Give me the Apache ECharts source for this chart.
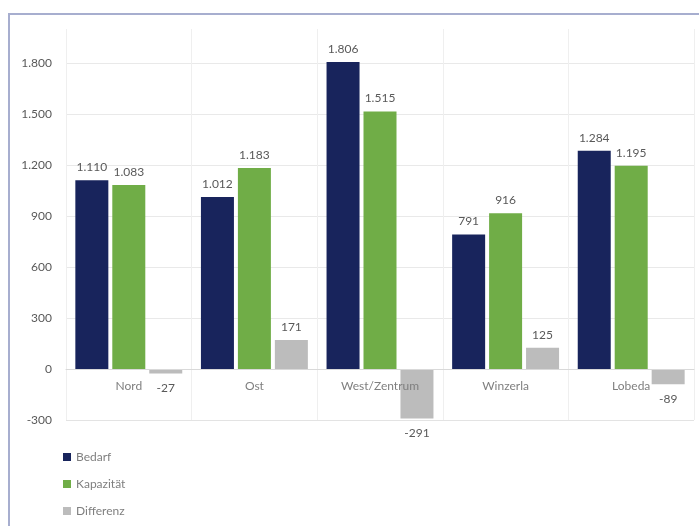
<!DOCTYPE html>
<html>
<head>
<meta charset="utf-8">
<script src="https://cdn.jsdelivr.net/npm/echarts@6/dist/echarts.min.js"></script>
<style>
  html, body { margin: 0; padding: 0; background: #fff; }
  .frame {
    position: absolute; left: 8px; top: 13px; width: 720px; height: 540px;
    border-left: 2px solid #a7aecf; border-top: 2px solid #a7aecf;
  }
  #chart { position: absolute; left: 0; top: 0; width: 699px; height: 526px; }
</style>
</head>
<body>
<div class="frame"></div>
<div id="chart"></div>
<script>
  // Daten
  const kategorien = ['Nord', 'Ost', 'West/Zentrum', 'Winzerla', 'Lobeda']
  const bedarf = [1110, 1012, 1806, 791, 1284]
  const kapazitaet = [1083, 1183, 1515, 916, 1195]
  const differenz = [-27, 171, -291, 125, -89]

  // 1.234 statt 1,234
  function fmt(v) {
    let s = String(Math.abs(v)).replace(/\B(?=(\d{3})+(?!\d))/g, '.')
    return (v < 0 ? '-' : '') + s
  }

  function items(arr) {
    return arr.map(v => ({
      value: v,
      label: v < 0 ? {position: 'bottom', distance: 9} : {position: 'top'}
    }))
  }

  let font = 'Lato'
  let chart = echarts.init(document.getElementById('chart'))

  let barLabel = {
    show: true,
    distance: 7,
    color: '#595959',
    fontFamily: font,
    fontSize: 12,
    formatter: p => fmt(p.value)
  }

  let option = {
    animation: false,
    textStyle: {fontFamily: font},
    grid: {left: 66, right: 5, top: 29, bottom: 106},
    legend: {
      orient: 'vertical',
      left: 63,
      top: 451,
      padding: 0,
      itemWidth: 8,
      itemHeight: 8,
      itemGap: 15,
      icon: 'rect',
      textStyle: {color: '#7f7f7f', fontSize: 12, fontFamily: font},
      data: ['Bedarf', 'Kapazität', 'Differenz']
    },
    xAxis: [
      {
        type: 'category',
        data: kategorien,
        position: 'bottom',
        // Achse liegt bei 0: 300er-Schritt = 51px
        offset: -51,
        axisLine: {onZero: false, lineStyle: {color: '#d9d9d9'}},
        axisTick: {show: false},
        axisLabel: {color: '#7f7f7f', fontSize: 12, margin: 11, fontFamily: font},
        splitLine: {show: false},
        z: 5
      },
      {
        // halbe Kategorien nur fuer die senkrechten Gitterlinien
        type: 'category',
        data: kategorien.flatMap(k => [k + 'a', k + 'b']),
        position: 'top',
        axisLine: {show: false, onZero: false},
        axisTick: {show: false},
        axisLabel: {show: false},
        splitLine: {show: true, lineStyle: {color: '#efefef'}}
      }
    ],
    yAxis: {
      type: 'value',
      min: -300,
      max: 2000,
      interval: 300,
      axisLine: {show: false},
      axisTick: {show: false},
      axisLabel: {
        color: '#595959',
        fontSize: 12,
        margin: 14,
        fontFamily: font,
        formatter: v => v > 1800 ? '' : fmt(v)
      },
      splitLine: {
        lineStyle: {
          color: ['#e3e3e3', '#e9e9e9', '#e9e9e9', '#e9e9e9', '#e9e9e9', '#e9e9e9', '#e9e9e9', '#e9e9e9', 'rgba(0,0,0,0)']
        }
      }
    },
    series: [
      {
        name: 'Bedarf', type: 'bar', barWidth: 33, barGap: '12%',
        itemStyle: {color: '#18245c'},
        label: barLabel,
        data: items(bedarf)
      },
      {
        name: 'Kapazität', type: 'bar', barWidth: 33, barGap: '12%',
        itemStyle: {color: '#70ad47'},
        label: barLabel,
        data: items(kapazitaet)
      },
      {
        name: 'Differenz', type: 'bar', barWidth: 33, barGap: '12%',
        itemStyle: {color: '#bcbcbc'},
        label: barLabel,
        data: items(differenz)
      }
    ]
  }
  chart.setOption(option)
</script>
</body>
</html>
